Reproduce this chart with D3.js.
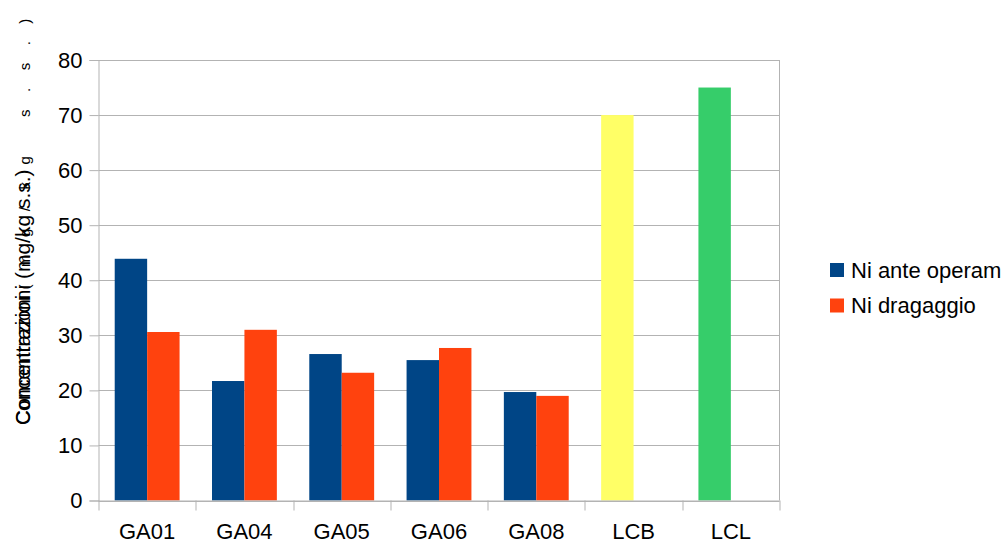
<!DOCTYPE html>
<html>
<head>
<meta charset="utf-8">
<script src="https://cdn.jsdelivr.net/npm/d3@7"></script>
<style>
  html, body { margin: 0; padding: 0; background: #fff; }
  svg { display: block; font-family: "Liberation Sans", Arial, sans-serif; }
</style>
</head>
<body>
<svg id="chart" width="1007" height="542"></svg>
<script>
// Sampling stations and reference limits
const categories = ["GA01", "GA04", "GA05", "GA06", "GA08", "LCB", "LCL"];
const seriesNames = ["Ni ante operam", "Ni dragaggio"];
const seriesColors = ["#004586", "#ff420e"];
// Nickel concentrations (mg/kg s.s.)
const anteOperam = [43.9, 21.7, 26.6, 25.5, 19.7, null, null];
const dragaggio = [30.6, 31.0, 23.2, 27.7, 19.0, null, null];
// Reference limits (LCB / LCL)
const limitValues = [null, null, null, null, null, 70, 75];
const limitColors = [null, null, null, null, null, "#ffff66", "#36cd6a"];
const yTicks = [0, 10, 20, 30, 40, 50, 60, 70, 80];
const yTitle = "Concentrazioni (mg/kg s.s.)";

const svg = d3.select("#chart");
const margin = { left: 98.5, top: 60, right: 1007 - 779.5, bottom: 542 - 500.5 };
const W = 1007 - margin.left - margin.right;
const H = 542 - margin.top - margin.bottom;
const gridColor = "#b3b3b3";
const fontSize = 22;

const x0 = d3.scaleBand().domain(categories).range([0, W]).paddingInner(0).paddingOuter(0);
const x1 = d3.scaleBand().domain([0, 1]).range([0, x0.bandwidth()]).paddingInner(0).paddingOuter(0.5);
const y = d3.scaleLinear().domain([0, 80]).range([H, 0]);

const g = svg.append("g").attr("transform", `translate(${margin.left},${margin.top})`);

// Horizontal gridlines
g.append("g").selectAll("line").data(yTicks).join("line")
  .attr("x1", 0).attr("x2", W)
  .attr("y1", d => Math.round(y(d)) + 0.5).attr("y2", d => Math.round(y(d)) + 0.5)
  .attr("stroke", gridColor).attr("stroke-width", 1);

// Right frame edge
g.append("line").attr("x1", W).attr("x2", W).attr("y1", 0).attr("y2", H)
  .attr("stroke", gridColor);

// Series bars
const seriesData = [anteOperam, dragaggio];
seriesData.forEach((vals, si) => {
  g.append("g").selectAll("rect")
    .data(categories.map((c, i) => ({ c, v: vals[i] })).filter(d => d.v != null))
    .join("rect")
    .attr("x", d => x0(d.c) + x1(si))
    .attr("width", x1.bandwidth())
    .attr("y", d => y(d.v))
    .attr("height", d => y(0) - y(d.v))
    .attr("fill", seriesColors[si]);
});

// Limit bars
g.append("g").selectAll("rect")
  .data(categories.map((c, i) => ({ c, v: limitValues[i], col: limitColors[i] })).filter(d => d.v != null))
  .join("rect")
  .attr("x", d => x0(d.c) + x1(0))
  .attr("width", x1.bandwidth())
  .attr("y", d => y(d.v))
  .attr("height", d => y(0) - y(d.v))
  .attr("fill", d => d.col);

// Y axis
const yAxis = g.append("g")
  .call(d3.axisLeft(y).tickValues(yTicks).tickSize(9).tickPadding(7));
yAxis.select(".domain").attr("stroke", gridColor);
yAxis.selectAll(".tick line").attr("stroke", gridColor);
yAxis.selectAll(".tick text").attr("fill", "#000").attr("font-size", fontSize)
  .attr("font-family", "'Liberation Sans', Arial, sans-serif");

// X axis with boundary ticks between categories
const xAxisG = g.append("g").attr("transform", `translate(0,${H})`);
xAxisG.append("line").attr("x1", 0).attr("x2", W).attr("y1", 0.5).attr("y2", 0.5).attr("stroke", gridColor);
const bounds = categories.map(c => x0(c)).concat([W]);
xAxisG.selectAll("line.b").data(bounds).join("line").attr("class", "b")
  .attr("x1", d => Math.round(d) + 0.5).attr("x2", d => Math.round(d) + 0.5)
  .attr("y1", 0).attr("y2", 10).attr("stroke", gridColor);
xAxisG.selectAll("text").data(categories).join("text")
  .attr("x", d => x0(d) + x0.bandwidth() / 2)
  .attr("y", 38)
  .attr("text-anchor", "middle")
  .attr("font-size", fontSize)
  .attr("fill", "#000")
  .text(d => d);

// Y axis title (drawn twice, the second run spaced out)
svg.append("text")
  .attr("transform", "translate(30,425) rotate(-90)")
  .attr("font-size", 21).attr("fill", "#000")
  .text(yTitle);
const t2 = svg.append("text")
  .attr("transform", "translate(30,425) rotate(-90)")
  .attr("font-size", 19.5).attr("fill", "#000");
t2.append("tspan").text("Concentrazioni ");
t2.append("tspan").attr("font-size", 15).attr("letter-spacing", 17.5).text("(mg/kg s.s.)");

// Legend
const legend = svg.append("g").attr("transform", "translate(830,263)");
seriesNames.forEach((name, i) => {
  const row = legend.append("g").attr("transform", `translate(0,${i * 35.5})`);
  row.append("rect").attr("width", 14).attr("height", 14).attr("fill", seriesColors[i]);
  row.append("text").attr("x", 21).attr("y", 14.5)
    .attr("font-size", fontSize).attr("fill", "#000").text(name);
});
</script>
</body>
</html>
